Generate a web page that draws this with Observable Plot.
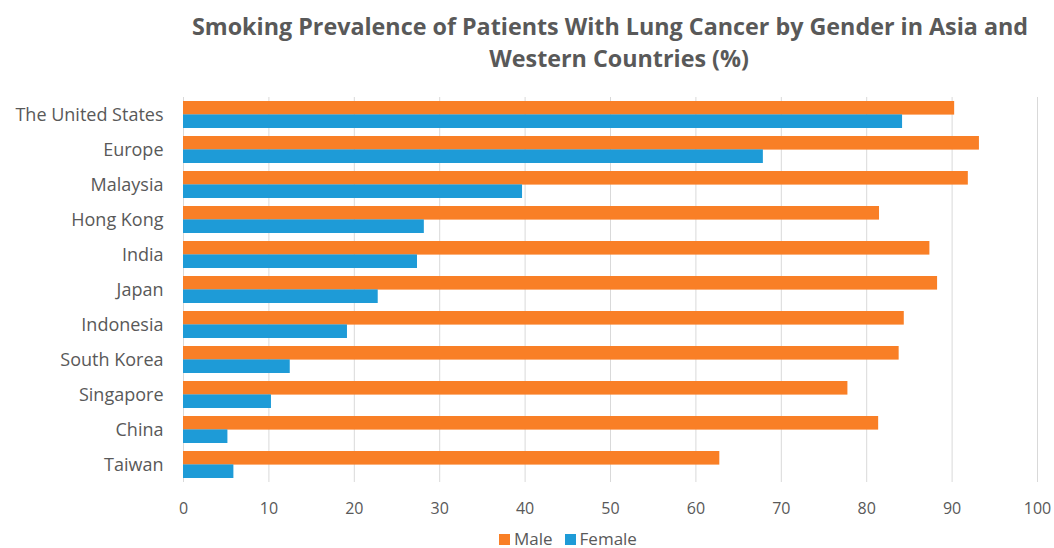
<!DOCTYPE html>
<html>
<head>
<meta charset="utf-8">
<script src="https://cdn.jsdelivr.net/npm/d3@7"></script>
<script src="https://cdn.jsdelivr.net/npm/@observablehq/plot@0.6"></script>
<style>
  body { margin: 0; background: #fff; font-family: "Open Sans", sans-serif; color: #595959; overflow: hidden; }
  #title { height: 80px; box-sizing: border-box; padding-top: 10px; margin-left: 163px; width: 894px;
           text-align: center; font-weight: bold; font-size: 23.3px; line-height: 32px; color: #595959; white-space: nowrap; }
  #legend { margin-left: 499px; height: 18px; line-height: 22px; font-size: 17px; display: flex; gap: 12px; }
  #legend span.item { display: inline-flex; align-items: center; }
  #legend span.sw { display: inline-block; width: 11px; height: 11px; margin-right: 4px; }
</style>
</head>
<body>
<div id="title">Smoking Prevalence of Patients With Lung Cancer by Gender in Asia and<br>&nbsp;&nbsp;&nbsp;Western Countries (%)</div>
<div id="chart"></div>
<div id="legend"></div>
<script>
const countries = ["The United States", "Europe", "Malaysia", "Hong Kong", "India", "Japan", "Indonesia", "South Korea", "Singapore", "China", "Taiwan"];
const male = [90.3, 93.2, 91.9, 81.5, 87.4, 88.3, 84.4, 83.8, 77.8, 81.4, 62.8];
const female = [84.2, 67.9, 39.7, 28.2, 27.4, 22.8, 19.2, 12.5, 10.3, 5.2, 5.9];
const genders = ["Male", "Female"];
const colors = ["#F97F26", "#1E9BD7"];
const xTicks = [0, 10, 20, 30, 40, 50, 60, 70, 80, 90, 100];

const maleData = countries.map((c, i) => ({country: c, gender: "Male", value: male[i]}));
const femaleData = countries.map((c, i) => ({country: c, gender: "Female", value: female[i]}));

const chart = Plot.plot({
  width: 1054,
  height: 450,
  marginLeft: 183,
  marginRight: 17,
  marginTop: 17,
  marginBottom: 48,
  style: {fontFamily: "Open Sans", fontSize: "16px", color: "#595959", background: "#fff"},
  x: {domain: [0, 100], ticks: xTicks, label: null, tickSize: 0, tickPadding: 20},
  y: {domain: countries, paddingInner: 0.23, paddingOuter: 0.115, label: null, tickSize: 0, tickPadding: 20},
  marks: [
    Plot.ruleX(xTicks, {stroke: "#d9d9d9", strokeWidth: 1}),
    Plot.barX(maleData, {x: "value", y: "country", fill: colors[0], insetBottom: 13.4}),
    Plot.barX(femaleData, {x: "value", y: "country", fill: colors[1], insetTop: 13.4})
  ]
});
chart.querySelectorAll('g[aria-label="y-axis tick label"] text, g[aria-label="y-axis"] text').forEach(t => t.style.fontSize = "18px");
document.getElementById("chart").appendChild(chart);

const legend = document.getElementById("legend");
genders.forEach((g, i) => {
  const item = document.createElement("span");
  item.className = "item";
  item.innerHTML = `<span class="sw" style="background:${colors[i]}"></span>${g}`;
  legend.appendChild(item);
});
</script>
</body>
</html>
